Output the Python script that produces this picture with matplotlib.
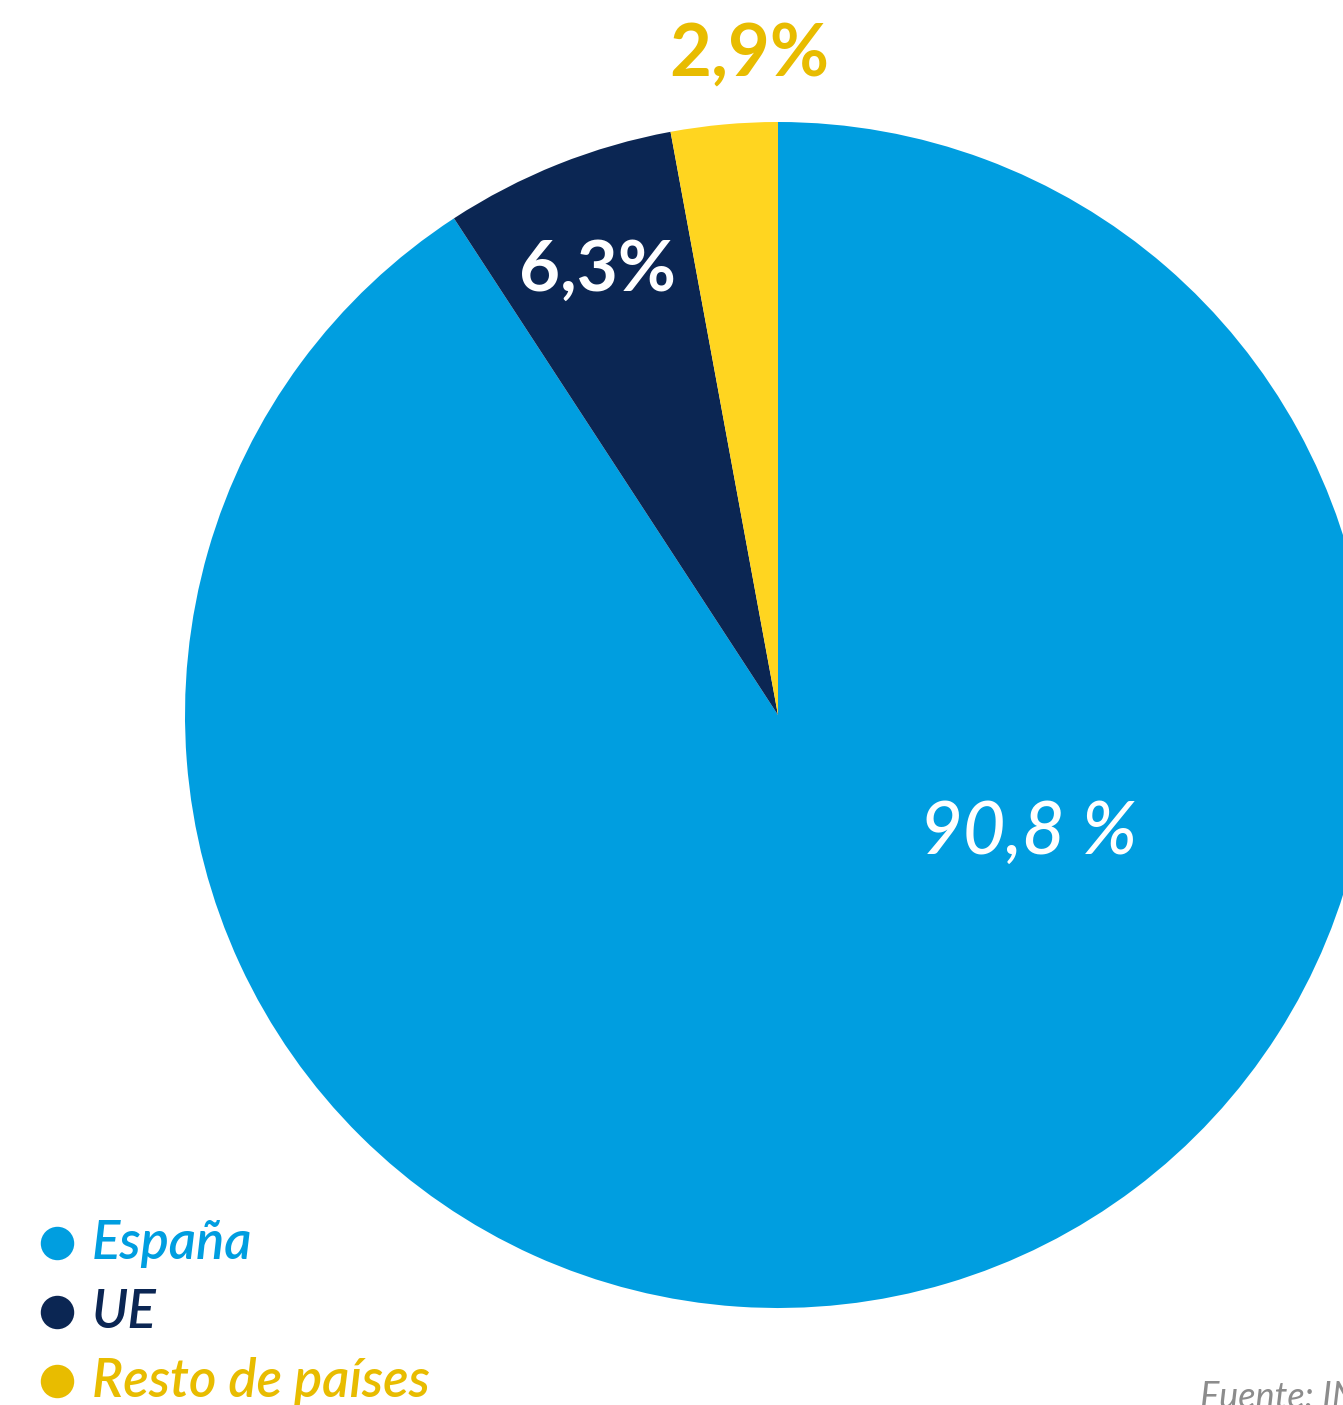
import matplotlib.pyplot as plt

# datos
categorias = ['España', 'UE', 'Resto de países']
valores = [90.8, 6.3, 2.9]
etiquetas = ['90,8 %', '6,3%', '2,9%']
colores = ['#009EE0', '#0B2653', '#FFD520']
colores_texto = ['#009EE0', '#0B2653', '#E8BC00']
fuente = 'Fuente: INE'

W, H = 1343, 1405
fig = plt.figure(figsize=(W / 100, H / 100), dpi=100)
ax = fig.add_axes([0, 0, 1, 1])

# tarta: centro y radio en pixeles
cx, cy, r = 778, H - 715, 593
ax.pie(valores, colors=colores, startangle=90, counterclock=False,
       center=(cx, cy), radius=r, frame=True,
       wedgeprops=dict(linewidth=0))
ax.set_xlim(0, W)
ax.set_ylim(0, H)
ax.set_aspect('equal')
ax.axis('off')

# etiquetas de porcentaje
ax.text(1028, H - 833, etiquetas[0], color='white', fontsize=53, family='Lato',
        style='italic', weight='medium', ha='center', va='center')
ax.text(597, H - 270, etiquetas[1], color='white', fontsize=51, family='Lato',
        weight='bold', ha='center', va='center')
ax.text(749, H - 55, etiquetas[2], color=colores_texto[2], fontsize=52, family='Lato',
        weight='bold', ha='center', va='center')

# leyenda
for i, cat in enumerate(categorias):
    y = H - (1243 + i * 69)
    ax.scatter([57], [y], s=580, color=colores_texto[i], linewidths=0)
    ax.text(92, y, cat, color=colores_texto[i], fontsize=38, family='Lato',
            style='italic', weight='semibold', ha='left', va='center')

ax.text(1200, H - 1398, fuente, color='#8C8C8C', fontsize=26, family='Lato',
        style='italic', weight='normal', ha='left', va='center')

fig.savefig('out.png', dpi=100, facecolor='white')
